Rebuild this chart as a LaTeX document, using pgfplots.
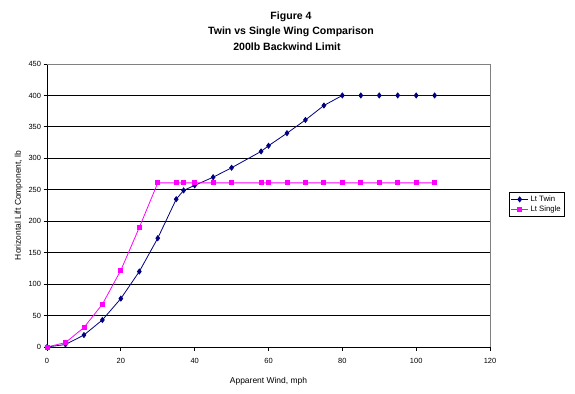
\documentclass[border=0pt]{standalone}
\usepackage{pgfplots}
\pgfplotsset{compat=1.18}
\usepackage{fontspec}
\setmainfont{Liberation Sans}
\definecolor{twin}{HTML}{000080}
\definecolor{single}{HTML}{FF00FF}
\begin{document}
\begin{tikzpicture}[x=1bp,y=1bp]
\useasboundingbox (0,0) rectangle (575,393);
\node[font=\bfseries\fontsize{10.6}{12}\selectfont] at (291,376) {Figure 4};
\node[font=\bfseries\fontsize{10.6}{12}\selectfont] at (291,361) {Twin vs Single Wing Comparison};
\node[font=\bfseries\fontsize{10.6}{12}\selectfont] at (287,346.5) {200lb Backwind Limit};
\begin{axis}[
  at={(47bp,46bp)}, anchor=south west,
  scale only axis, width=443bp, height=283bp,
  xmin=0, xmax=120, ymin=0, ymax=450,
  xtick={0,20,...,120}, ytick={0,50,...,450},
  axis x line*=bottom, axis y line*=left,
  axis line style={black, line width=0.8bp, -},
  tick align=outside, major tick length=3.5bp,
  tick style={black, line width=0.8bp},
  ymajorgrids, grid style={black, line width=0.8bp},
  /pgf/number format/assume math mode=true,
  ticklabel style={font=\fontsize{7.5}{9}\selectfont},
  xticklabel style={yshift=-4bp},
  yticklabel style={xshift=1bp},
  xlabel={Apparent Wind, mph}, ylabel={Horizontal Lift Component, lb},
  label style={font=\fontsize{8.5}{10}\selectfont},
  xlabel style={yshift=-7bp},
  ylabel shift=-1bp,
  clip=false,
  legend style={at={(1.0428,0.5477)}, anchor=north west, draw=black, line width=0.6bp,
    font=\fontsize{7.8}{9}\selectfont, inner sep=1.5bp, row sep=-1bp},
  legend cell align=left,
]
\draw[gray, line width=0.8bp] (rel axis cs:0,1) -- (rel axis cs:1,1) -- (rel axis cs:1,0);
\addplot[twin, line width=0.8bp, mark=diamond*, mark size=2.5bp, mark options={solid, fill=twin}] coordinates {
(0,0)(5,4)(10,19)(15,43)(20,77)(25,120)(30,173)(35,235)(37,249)(40,257)(45,270)(50,285)(58,311)(60,320)(65,340)(70,361)(75,384)(80,400)(85,400)(90,400)(95,400)(100,400)(105,400)};
\addlegendentry{Lt Twin}
\addplot[single, line width=0.8bp, mark=square*, mark size=2bp, mark options={solid, fill=single}] coordinates {
(0,0)(5,7)(10,31)(15,68)(20,122)(25,190)(30,261)(35,261)(37,261)(40,261)(45,261)(50,261)(58,261)(60,261)(65,261)(70,261)(75,261)(80,261)(85,261)(90,261)(95,261)(100,261)(105,261)};
\addlegendentry{Lt Single}
\end{axis}
\end{tikzpicture}
\end{document}
